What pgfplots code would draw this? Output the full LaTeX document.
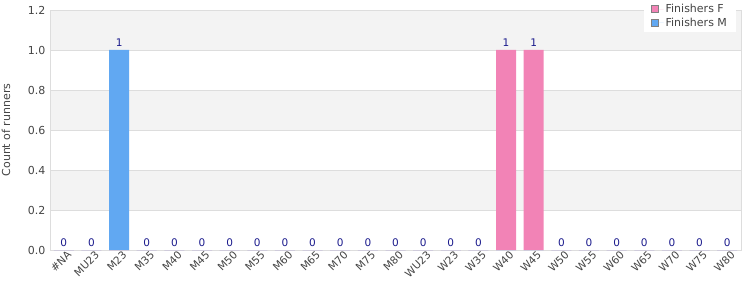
\documentclass[border=0pt]{standalone}
\usepackage{fontspec}
\setmainfont{DejaVu Sans}
\usepackage{pgfplots}
\pgfplotsset{compat=1.18}
\definecolor{pinkF}{HTML}{F283B6}
\definecolor{blueM}{HTML}{61A8F2}
\definecolor{band}{HTML}{F3F3F3}
\definecolor{gridc}{HTML}{DDDDDD}
\definecolor{lab}{HTML}{1A1A8C}
\definecolor{tickc}{HTML}{444444}
\begin{document}
\begin{tikzpicture}
\begin{axis}[
  set layers,
  at={(0,0)}, anchor=south west, scale only axis,
  width=691pt, height=240pt,
  xmin=-0.5, xmax=24.5, ymin=0, ymax=1.2,
  ytick={0,0.2,0.4,0.6,0.8,1.0,1.2},
  yticklabel style={/pgf/number format/fixed, /pgf/number format/fixed zerofill, /pgf/number format/precision=1},
  /pgf/number format/assume math mode=true,
  xtick={0,...,24},
  xticklabels={\#NA,MU23,M23,M35,M40,M45,M50,M55,M60,M65,M70,M75,M80,WU23,W23,W35,W40,W45,W50,W55,W60,W65,W70,W75,W80},
  x tick label style={rotate=45, anchor=north east, font=\fontsize{10.5}{12}\selectfont, text=tickc, inner sep=1pt, xshift=3pt, yshift=-1pt},
  y tick label style={font=\fontsize{11}{13}\selectfont, text=tickc, xshift=-1pt},
  major tick length=0pt,
  ymajorgrids, grid style={gridc, line width=0.8pt},
  axis line style={gridc, line width=0.8pt},
  ylabel={Count of runners},
  ylabel style={font=\fontsize{11}{13}\selectfont, text=tickc, at={(rel axis cs:-0.0637,0.5)}, anchor=center},
  ybar, bar width=20pt, bar shift=0pt,
  legend style={at={(rel axis cs:0.993,1.042)}, anchor=north east, draw=none, fill=white,
     font=\fontsize{11}{13}\selectfont, text=tickc, row sep=0pt, inner xsep=7pt, inner ysep=2pt},
  legend cell align=left,
]
\begin{pgfonlayer}{axis background}
\fill[band] (axis cs:-0.5,0.2) rectangle (axis cs:24.5,0.4);
\fill[band] (axis cs:-0.5,0.6) rectangle (axis cs:24.5,0.8);
\fill[band] (axis cs:-0.5,1.0) rectangle (axis cs:24.5,1.2);
\end{pgfonlayer}
\addplot[fill=pinkF, draw=none,
  legend image code/.code={\draw[fill=pinkF, draw=gray, line width=0.7pt] (0pt,-3.5pt) rectangle (7pt,3.5pt); \path (0pt,0pt) -- (12pt,0pt);}]
  coordinates {(0,0) (1,0) (2,0) (3,0) (4,0) (5,0) (6,0) (7,0) (8,0) (9,0) (10,0) (11,0) (12,0) (13,0) (14,0) (15,0) (16,1) (17,1) (18,0) (19,0) (20,0) (21,0) (22,0) (23,0) (24,0)};
\addlegendentry{Finishers F}
\addplot[fill=blueM, draw=none,
  legend image code/.code={\draw[fill=blueM, draw=gray, line width=0.7pt] (0pt,-3.5pt) rectangle (7pt,3.5pt); \path (0pt,0pt) -- (12pt,0pt);}]
  coordinates {(0,0) (1,0) (2,1) (3,0) (4,0) (5,0) (6,0) (7,0) (8,0) (9,0) (10,0) (11,0) (12,0) (13,0) (14,0) (15,0) (16,0) (17,0) (18,0) (19,0) (20,0) (21,0) (22,0) (23,0) (24,0)};
\addlegendentry{Finishers M}
\addplot[draw=none, fill=none, forget plot, point meta=y,
  nodes near coords, nodes near coords style={font=\fontsize{10.5}{12}\selectfont, text=lab, inner sep=3.5pt, /pgf/number format/fixed, /pgf/number format/precision=0}]
  coordinates {(0,0) (1,0) (2,1) (3,0) (4,0) (5,0) (6,0) (7,0) (8,0) (9,0) (10,0) (11,0) (12,0) (13,0) (14,0) (15,0) (16,1) (17,1) (18,0) (19,0) (20,0) (21,0) (22,0) (23,0) (24,0)};
\end{axis}
\pgfresetboundingbox
\useasboundingbox (-50pt,-50pt) rectangle (700pt,250pt);
\end{tikzpicture}
\end{document}
